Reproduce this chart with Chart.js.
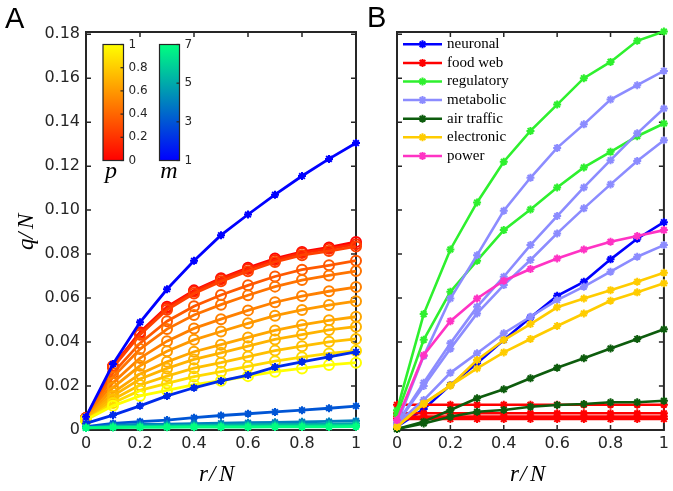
<!DOCTYPE html>
<html>
<head>
<meta charset="utf-8">
<script src="https://cdn.jsdelivr.net/npm/chart.js@4.4.1/dist/chart.umd.min.js"></script>
<style>
  html, body { margin: 0; padding: 0; background: #fff; }
  #wrap { position: relative; width: 673px; height: 491px; }
  canvas { position: absolute; left: 0; top: 0; }
</style>
</head>
<body>
<div id="wrap">
  <canvas id="chartA" width="673" height="491"></canvas>
  <canvas id="chartB" width="673" height="491"></canvas>
</div>
<script>
// shared axes
const rValues = [0, 0.1, 0.2, 0.3, 0.4, 0.5, 0.6, 0.7, 0.8, 0.9, 1];
const yTicks = [0, 0.02, 0.04, 0.06, 0.08, 0.10, 0.12, 0.14, 0.16, 0.18];
const yTickLabels = ['0', '0.02', '0.04', '0.06', '0.08', '0.10', '0.12', '0.14', '0.16', '0.18'];
const xTicks = [0, 0.2, 0.4, 0.6, 0.8, 1];
const xTickLabels = ['0', '0.2', '0.4', '0.6', '0.8', '1'];

// panel A: model curves, p family (circles) and m family (stars)
const pValues = [0, 0.15, 0.25, 0.35, 0.45, 0.5, 0.6, 0.65, 0.7, 0.75, 0.85, 1];
const pCurves = [
  [0.0055, 0.029, 0.0445, 0.056, 0.0635, 0.069, 0.0738, 0.078, 0.081, 0.083, 0.0855],
  [0.0055, 0.0289, 0.044, 0.0555, 0.063, 0.0686, 0.0732, 0.0773, 0.0805, 0.0824, 0.0845],
  [0.0055, 0.0285, 0.0433, 0.0547, 0.0621, 0.0676, 0.0722, 0.0764, 0.0795, 0.0814, 0.0835],
  [0.005, 0.0259, 0.0395, 0.0495, 0.0563, 0.0614, 0.0658, 0.0698, 0.0729, 0.0749, 0.077],
  [0.005, 0.0241, 0.0368, 0.0459, 0.0523, 0.057, 0.0613, 0.0652, 0.0682, 0.0703, 0.0723],
  [0.005, 0.0215, 0.0327, 0.0404, 0.0462, 0.0504, 0.0544, 0.0581, 0.0609, 0.0631, 0.065],
  [0.005, 0.0193, 0.0292, 0.0358, 0.041, 0.0448, 0.0485, 0.052, 0.0546, 0.0568, 0.0586],
  [0.005, 0.017, 0.0255, 0.031, 0.0356, 0.0388, 0.0421, 0.0453, 0.0478, 0.0499, 0.0515],
  [0.005, 0.0155, 0.0232, 0.028, 0.0321, 0.0351, 0.0381, 0.0412, 0.0434, 0.0455, 0.047],
  [0.0045, 0.0139, 0.0205, 0.0245, 0.0281, 0.0306, 0.0334, 0.0361, 0.0381, 0.0401, 0.0414],
  [0.0045, 0.0123, 0.018, 0.0212, 0.0243, 0.0265, 0.0289, 0.0313, 0.0331, 0.0348, 0.036],
  [0.0045, 0.011, 0.0155, 0.018, 0.0206, 0.0224, 0.0245, 0.0265, 0.028, 0.0296, 0.0306]
];
const mValues = [1, 2, 3, 4, 5, 6, 7];
const mCurves = [
  [0.006, 0.030, 0.049, 0.064, 0.077, 0.0886, 0.098, 0.107, 0.1155, 0.1233, 0.1305],
  [0.003, 0.0068, 0.011, 0.0155, 0.0192, 0.0223, 0.025, 0.0286, 0.031, 0.0333, 0.0355],
  [0.0015, 0.003, 0.0038, 0.0045, 0.0056, 0.0066, 0.0074, 0.0082, 0.009, 0.0099, 0.0109],
  [0.001, 0.0022, 0.0025, 0.0027, 0.0029, 0.0031, 0.0033, 0.0035, 0.0037, 0.0039, 0.0042],
  [0.001, 0.0018, 0.0019, 0.002, 0.0021, 0.0022, 0.0024, 0.0025, 0.0026, 0.0027, 0.0029],
  [0.001, 0.0014, 0.0015, 0.0016, 0.0017, 0.0017, 0.0018, 0.0019, 0.0019, 0.002, 0.0021],
  [0.001, 0.0011, 0.0012, 0.0012, 0.0013, 0.0013, 0.0013, 0.0014, 0.0014, 0.0014, 0.0015]
];
const pBarTicks = [0, 0.2, 0.4, 0.6, 0.8, 1];
const pBarLabels = ['0', '0.2', '0.4', '0.6', '0.8', '1'];
const mBarTicks = [1, 3, 5, 7];
const mBarLabels = ['1', '3', '5', '7'];

// panel B: real networks
const networkNames = ['neuronal', 'food web', 'regulatory', 'metabolic', 'air traffic', 'electronic', 'power'];
const neuronal = [
  [0.0015, 0.0095, 0.0205, 0.0303, 0.0409, 0.0512, 0.061, 0.0674, 0.0776, 0.087, 0.0945]
];
const foodWeb = [
  [0.0115, 0.0115, 0.0115, 0.0115, 0.0115, 0.0115, 0.0115, 0.0115, 0.0115, 0.0115, 0.0115],
  [0.0076, 0.0076, 0.0076, 0.0076, 0.0076, 0.0076, 0.0076, 0.0076, 0.0076, 0.0076, 0.0076],
  [0.0061, 0.0061, 0.0061, 0.0061, 0.0061, 0.0061, 0.0061, 0.0061, 0.0061, 0.0061, 0.0061],
  [0.005, 0.005, 0.005, 0.005, 0.005, 0.005, 0.005, 0.005, 0.005, 0.005, 0.005]
];
const regulatory = [
  [0.009, 0.0527, 0.0821, 0.1035, 0.122, 0.136, 0.148, 0.160, 0.1674, 0.177, 0.1812],
  [0.007, 0.041, 0.0629, 0.077, 0.0909, 0.1003, 0.1103, 0.1194, 0.1265, 0.1336, 0.1394]
];
const metabolic = [
  [0.003, 0.0336, 0.0598, 0.0795, 0.0997, 0.1147, 0.1283, 0.139, 0.1503, 0.1568, 0.1633],
  [0.003, 0.0215, 0.0394, 0.056, 0.0697, 0.0841, 0.0973, 0.1103, 0.1227, 0.1349, 0.1462],
  [0.003, 0.020, 0.037, 0.053, 0.0659, 0.0773, 0.0894, 0.1008, 0.1117, 0.1223, 0.1318],
  [0.003, 0.0136, 0.026, 0.0349, 0.044, 0.0515, 0.0591, 0.0652, 0.072, 0.0788, 0.0841]
];
const airTraffic = [
  [0.0005, 0.0038, 0.0091, 0.0144, 0.0185, 0.0235, 0.0283, 0.0326, 0.0371, 0.0414, 0.0458],
  [0.0005, 0.003, 0.006, 0.0083, 0.0091, 0.0106, 0.0114, 0.0118, 0.0126, 0.0126, 0.0133]
];
const electronic = [
  [0.0015, 0.0121, 0.0202, 0.0318, 0.0409, 0.0482, 0.0558, 0.0598, 0.0636, 0.0674, 0.0715],
  [0.0015, 0.0118, 0.0202, 0.028, 0.0353, 0.0414, 0.0473, 0.053, 0.0588, 0.0626, 0.0667]
];
const power = [
  [0.0045, 0.034, 0.0495, 0.0598, 0.0679, 0.0732, 0.078, 0.0821, 0.0856, 0.0882, 0.0909]
];
const networkSeries = [neuronal, foodWeb, regulatory, metabolic, airTraffic, electronic, power];
const networkColors = ['#0000ff', '#ff0000', '#2ef02e', '#8c8cff', '#0d5c0d', '#ffcc00', '#ff33c4'];

const axisColor = '#262626';
const tickFont = { family: '"DejaVu Sans", sans-serif', size: 16 };

function toPoints(vals) {
  return rValues.map((r, i) => ({ x: r, y: vals[i] }));
}
function autumn(p) { return 'rgb(255,' + Math.round(255 * p) + ',0)'; }
function winter(m) {
  const t = (m - 1) / 6;
  return 'rgb(0,' + Math.round(255 * t) + ',' + Math.round(255 * (1 - t / 2)) + ')';
}

const frameAndTicks = {
  id: 'frameAndTicks',
  beforeDatasetsDraw(chart) {
    const { ctx, chartArea: a, scales: { x, y } } = chart;
    ctx.save();
    ctx.strokeStyle = axisColor;
    ctx.lineWidth = 1.5;
    ctx.beginPath();
    xTicks.forEach(v => {
      const px = x.getPixelForValue(v);
      ctx.moveTo(px, a.bottom); ctx.lineTo(px, a.bottom - 5);
      ctx.moveTo(px, a.top); ctx.lineTo(px, a.top + 5);
    });
    yTicks.forEach(v => {
      const py = y.getPixelForValue(v);
      ctx.moveTo(a.left, py); ctx.lineTo(a.left + 5, py);
      ctx.moveTo(a.right, py); ctx.lineTo(a.right - 5, py);
    });
    ctx.stroke();
    ctx.lineWidth = 2;
    ctx.strokeRect(a.left, a.top, a.right - a.left, a.bottom - a.top);
    ctx.restore();
  }
};

function drawMath(ctx, parts, x, y, angle) {
  ctx.save();
  ctx.translate(x, y);
  ctx.rotate(angle);
  ctx.fillStyle = '#000';
  ctx.font = 'italic 23px "Liberation Serif", serif';
  ctx.textAlign = 'left';
  ctx.textBaseline = 'alphabetic';
  parts.forEach(([s, dx]) => ctx.fillText(s, dx, 0));
  ctx.restore();
}

function drawPanelLetter(ctx, s, x, y) {
  ctx.save();
  ctx.fillStyle = '#000';
  ctx.font = '29px "Liberation Sans", Arial, sans-serif';
  ctx.textBaseline = 'alphabetic';
  ctx.fillText(s, x, y);
  ctx.restore();
}

function drawStar(ctx, x, y, r, color, lw) {
  ctx.save();
  ctx.strokeStyle = color;
  ctx.lineWidth = lw;
  ctx.beginPath();
  const d = r * Math.SQRT1_2;
  ctx.moveTo(x - r, y); ctx.lineTo(x + r, y);
  ctx.moveTo(x, y - r); ctx.lineTo(x, y + r);
  ctx.moveTo(x - d, y - d); ctx.lineTo(x + d, y + d);
  ctx.moveTo(x - d, y + d); ctx.lineTo(x + d, y - d);
  ctx.stroke();
  ctx.restore();
}

function drawColorbar(ctx, left, top, w, h, c0, c1, ticks, labels, vmin, vmax, sym, symX) {
  const g = ctx.createLinearGradient(0, top + h, 0, top);
  g.addColorStop(0, c0);
  g.addColorStop(1, c1);
  ctx.fillStyle = g;
  ctx.fillRect(left, top, w, h);
  ctx.strokeStyle = axisColor;
  ctx.lineWidth = 1.2;
  ctx.strokeRect(left, top, w, h);
  ctx.font = '12px "DejaVu Sans", sans-serif';
  ctx.fillStyle = axisColor;
  ctx.textAlign = 'left';
  ctx.textBaseline = 'middle';
  ticks.forEach((v, i) => {
    const py = top + h - (v - vmin) / (vmax - vmin) * h;
    ctx.beginPath();
    ctx.moveTo(left + w, py); ctx.lineTo(left + w - 3, py);
    ctx.stroke();
    ctx.fillText(labels[i], left + w + 5, py);
  });
  ctx.font = 'italic 24px "Liberation Serif", serif';
  ctx.fillStyle = '#000';
  ctx.textAlign = 'center';
  ctx.textBaseline = 'alphabetic';
  ctx.fillText(sym, symX, top + h + 17);
}

const annotA = {
  id: 'annotA',
  afterDraw(chart) {
    const ctx = chart.ctx;
    ctx.save();
    drawPanelLetter(ctx, 'A', 5, 28);
    drawMath(ctx, [['q', -22], ['/', -11], ['N', -1]], 33, 228, -Math.PI / 2);
    drawMath(ctx, [['r', -20], ['/', -10], ['N', 0]], 219, 481, 0);
    drawColorbar(ctx, 103, 44.5, 20.5, 116, autumn(0), autumn(1), pBarTicks, pBarLabels, 0, 1, 'p', 111);
    drawColorbar(ctx, 159.5, 44.5, 20, 116, winter(1), winter(7), mBarTicks, mBarLabels, 1, 7, 'm', 169);
    ctx.restore();
  }
};

const annotB = {
  id: 'annotB',
  afterDraw(chart) {
    const ctx = chart.ctx;
    ctx.save();
    drawPanelLetter(ctx, 'B', 367, 27);
    drawMath(ctx, [['r', -20], ['/', -10], ['N', 0]], 530, 481, 0);
    networkNames.forEach((name, i) => {
      const y = 44.3 + i * 18.6;
      ctx.strokeStyle = networkColors[i];
      ctx.lineWidth = 2.5;
      ctx.beginPath();
      ctx.moveTo(403, y); ctx.lineTo(442, y);
      ctx.stroke();
      drawStar(ctx, 422.5, y, 4, networkColors[i], 2);
      ctx.fillStyle = '#000';
      ctx.font = '15px "Liberation Serif", "Times New Roman", serif';
      ctx.textAlign = 'left';
      ctx.textBaseline = 'middle';
      ctx.fillText(name, 447, y);
    });
    ctx.restore();
  }
};

function scalesFor(showYLabels, yWidth) {
  return {
    x: {
      type: 'linear', min: 0, max: 1,
      grid: { display: false, drawTicks: false }, border: { display: false },
      afterBuildTicks: s => { s.ticks = xTicks.map(v => ({ value: v })); },
      afterFit: s => { s.height = 61; },
      ticks: { color: axisColor, font: tickFont, padding: 4, maxRotation: 0, autoSkip: false,
               callback: (v, i) => xTickLabels[i] }
    },
    y: {
      type: 'linear', min: 0, max: 0.181,
      grid: { display: false, drawTicks: false }, border: { display: false },
      afterBuildTicks: s => { s.ticks = yTicks.map(v => ({ value: v })); },
      afterFit: s => { s.width = yWidth; },
      ticks: { display: showYLabels, color: axisColor, font: tickFont, padding: 6, autoSkip: false,
               callback: (v, i) => yTickLabels[i] }
    }
  };
}

const commonOpts = {
  responsive: false,
  animation: false,
  events: [],
  plugins: { legend: { display: false }, tooltip: { enabled: false } }
};

// panel A datasets
const dsA = [];
pCurves.forEach((vals, i) => {
  const c = autumn(pValues[i]);
  dsA.push({
    data: toPoints(vals), borderColor: c, borderWidth: 2.8,
    pointStyle: 'circle', pointRadius: 5, pointBorderWidth: 2,
    pointBorderColor: c, pointBackgroundColor: 'rgba(0,0,0,0)', clip: false
  });
});
mCurves.forEach((vals, i) => {
  const c = winter(mValues[i]);
  dsA.push({
    data: toPoints(vals), borderColor: c, borderWidth: 2.8,
    pointStyle: 'star', pointRadius: 4, pointBorderWidth: 2,
    pointBorderColor: c, pointBackgroundColor: c, clip: false
  });
});
dsA.forEach((d, i) => { d.order = -i; });

new Chart(document.getElementById('chartA'), {
  type: 'line',
  data: { datasets: dsA },
  options: Object.assign({}, commonOpts, {
    layout: { padding: { left: 0, right: 317, top: 32, bottom: 0 } },
    scales: scalesFor(true, 86)
  }),
  plugins: [frameAndTicks, annotA]
});

// panel B datasets
const dsB = [];
networkSeries.forEach((group, gi) => {
  group.forEach(vals => {
    dsB.push({
      data: toPoints(vals), borderColor: networkColors[gi], borderWidth: 2.6,
      pointStyle: 'star', pointRadius: 4, pointBorderWidth: 2,
      pointBorderColor: networkColors[gi], pointBackgroundColor: networkColors[gi], clip: false
    });
  });
});
dsB.forEach((d, i) => { d.order = -i; });

new Chart(document.getElementById('chartB'), {
  type: 'line',
  data: { datasets: dsB },
  options: Object.assign({}, commonOpts, {
    layout: { padding: { left: 397, right: 8, top: 32, bottom: 0 } },
    scales: scalesFor(false, 0)
  }),
  plugins: [frameAndTicks, annotB]
});
</script>
</body>
</html>
